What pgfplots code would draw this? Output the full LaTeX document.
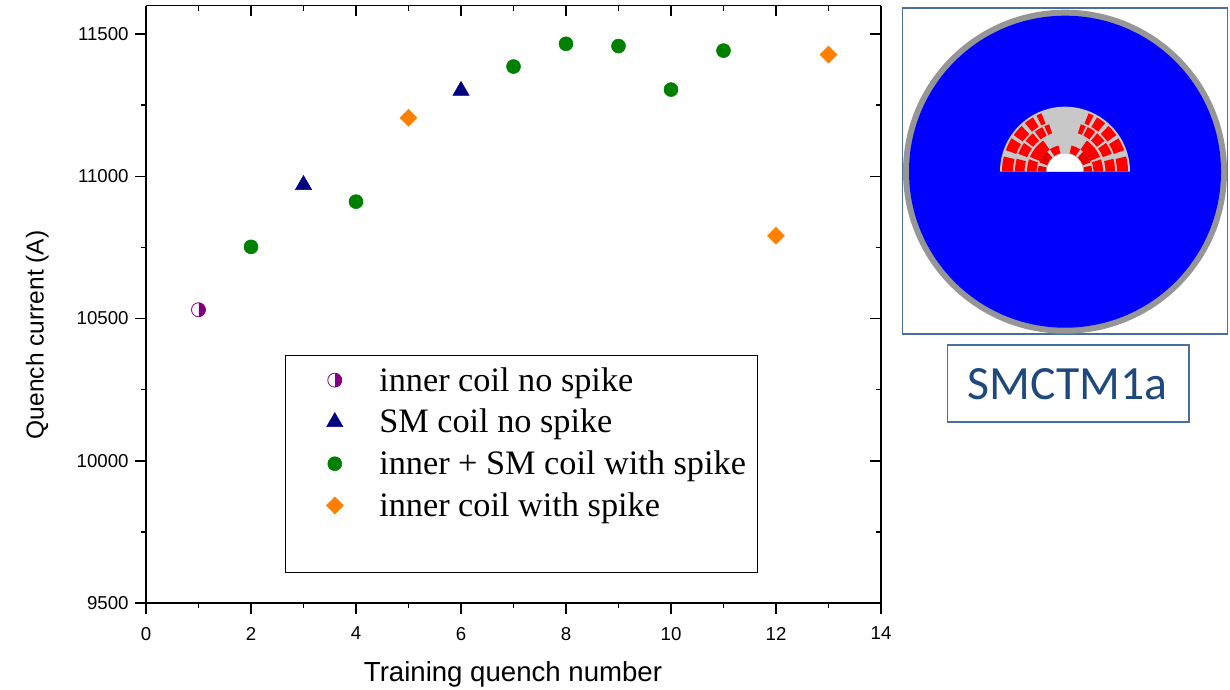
\documentclass[border=0pt]{standalone}
\usepackage{pgfplots}
\pgfplotsset{compat=1.18}
\usetikzlibrary{plotmarks}
\usepackage{fontspec}
\setmainfont{Liberation Sans}
\newfontfamily\legfont{Liberation Serif}
\newfontfamily\calfont{Carlito}
\definecolor{cpurple}{HTML}{800080}
\definecolor{cnavy}{HTML}{000080}
\definecolor{cgreen}{HTML}{008000}
\definecolor{corange}{HTML}{FF8000}
\definecolor{cframe}{HTML}{4A6F9E}
\definecolor{ctitle}{HTML}{1F497D}
\definecolor{cring}{HTML}{969696}
\definecolor{ciron}{HTML}{C8C8C8}
\definecolor{cdark}{HTML}{E60000}
\newcommand{\blk}[5][red]{%
  \fill[#1] (#4:#2) arc[start angle=#4,end angle=#5,radius=#2] -- (#5:#3) arc[start angle=#5,end angle=#4,radius=#3] -- cycle;%
  \fill[#1] (180-#4:#2) arc[start angle=180-#4,end angle=180-#5,radius=#2] -- (180-#5:#3) arc[start angle=180-#5,end angle=180-#4,radius=#3] -- cycle;}
\begin{document}
\begin{tikzpicture}[x=0.75pt,y=-0.75pt]
\path[use as bounding box] (0,0) rectangle (1230,689);
% schematic
\draw[cframe,line width=0.8pt] (902.5,8) rectangle (1227.5,334);
\fill[cring] (1065,171.7) circle[radius=162];
\fill[blue] (1065,171.7) circle[radius=156];
\begin{scope}[shift={(1065,171.7)},x=0.75pt,y=0.75pt]
\fill[ciron] (-65,0) arc[start angle=180,end angle=0,radius=65] -- cycle;
% outer ring
\blk{52}{63}{0}{14}
\blk{52}{63}{20}{32}
\blk{52}{63}{35.5}{46.5}
\blk{52}{63}{50.5}{59.5}
\blk{52}{63}{63}{68}
% second ring
\blk{40.5}{50}{0}{15}
\blk{40.5}{50}{21}{35}
\blk{40.5}{50}{38}{50}
\blk{40.5}{50}{53}{63}
\blk{40.5}{50}{65.5}{71.5}
% inner rings
\blk{28.5}{38}{0}{19}
\blk{27}{38}{23}{55}
\blk[cdark]{19}{27}{0}{13}
\blk[cdark]{19}{27}{20}{48}
\blk{19}{27}{56}{76}
\fill[white] (-18,0) arc[start angle=180,end angle=0,radius=18] -- cycle;
\end{scope}
\draw[cframe,line width=0.8pt] (947.5,345) rectangle (1189,422);
\node[text=ctitle,font=\calfont\fontsize{35.8pt}{38pt}\selectfont,anchor=center] at (1067.5,384) {SMCTM1a};
% mirror frame
\begin{axis}[at={(109.5pt,-452.25pt)},anchor=south west,scale only axis,width=551.25pt,height=448pt,
  xmin=0,xmax=14,ymin=9500,ymax=11600,
  axis x line*=top,axis y line*=right,axis line style={-,line width=1.2pt},
  tick align=inside,xtick={0,2,...,14},ytick={9500,10000,...,11500},
  minor xtick={1,3,...,13},minor ytick={9750,10250,...,11250},
  xticklabels={},yticklabels={},
  major tick length=8pt,minor tick length=4pt,
  every tick/.style={black,line width=1.1pt}]
\end{axis}
\begin{axis}[at={(109.5pt,-452.25pt)},anchor=south west,scale only axis,width=551.25pt,height=448pt,
  xmin=0,xmax=14,ymin=9500,ymax=11600,
  axis x line*=bottom,axis y line*=left,axis line style={-,line width=1.2pt},
  tick align=outside,xtick={0,2,...,14},ytick={9500,10000,...,11500},
  minor xtick={1,3,...,13},minor ytick={9750,10250,...,11250},
  major tick length=8pt,minor tick length=4pt,
  every tick/.style={black,line width=1.1pt},
  scaled y ticks=false,
  tick label style={font=\fontsize{14pt}{16pt}\selectfont},
  xticklabel style={yshift=-6.5pt},
  yticklabel style={xshift=-1.5pt},
  /pgf/number format/assume math mode=true,
  /pgf/number format/1000 sep={},
  xlabel={Training quench number},ylabel={Quench current (A)},
  xlabel style={font=\fontsize{20.7pt}{24pt}\selectfont,at={(axis description cs:0.4993,-0.119)},anchor=center},
  ylabel style={font=\fontsize{18.4pt}{22pt}\selectfont,at={(axis description cs:-0.148,0.449)},anchor=center},
  clip=false,
  legend cell align=left,
  legend style={at={(0.2395,0.404)},anchor=north west,draw=none,fill=none,
     font=\legfont\fontsize{25.7pt}{29pt}\selectfont,row sep=8pt,
     /tikz/every odd column/.append style={column sep=25pt},
     /tikz/every even column/.append style={column sep=0pt}},
]
\addplot[only marks,mark=halfcircle*,mark size=5.25pt,mark options={rotate=-90,draw=cpurple,fill=cpurple,line width=0.6pt}] coordinates {(1,10531)};
\addlegendentry{inner coil no spike}
\addplot[only marks,mark=triangle*,mark size=7pt,mark options={draw=cnavy,fill=cnavy}] coordinates {(3,10970)(6,11301)};
\addlegendentry{SM coil no spike}
\addplot[only marks,mark=*,mark size=5.25pt,mark options={draw=cgreen,fill=cgreen}] coordinates {(2,10752)(4,10911)(7,11386)(8,11466)(9,11458)(10,11305)(11,11442)};
\addlegendentry{inner + SM coil with spike}
\addplot[only marks,mark=square*,mark size=4.5pt,mark options={rotate=45,draw=corange,fill=corange}] coordinates {(5,11206)(12,10791)(13,11428)};
\addlegendentry{inner coil with spike}
\end{axis}
\draw[black,line width=0.7pt] (285.5,355.5) rectangle (757,572);
\end{tikzpicture}
\end{document}
